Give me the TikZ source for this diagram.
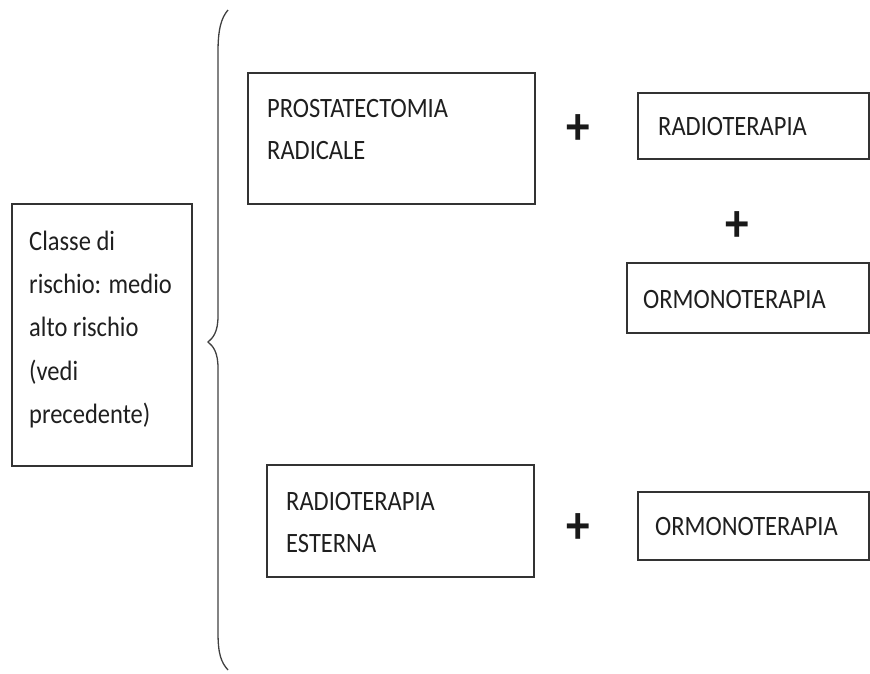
\documentclass[tikz,border=0pt]{standalone}
\usepackage{fontspec}
\setmainfont{Carlito}[FakeStretch=0.875]
\begin{document}
\begin{tikzpicture}[x=1pt,y=-1pt,
  box/.style={draw=black!80, line width=1.3pt, inner sep=0pt, outer sep=0pt, anchor=north west},
  lbl/.style={anchor=base west, inner sep=0pt, font=\fontsize{28}{34}\selectfont, text=black!88},
  plussign/.style={font=\fontsize{54}{54}\selectfont\bfseries, inner sep=0pt, text=black!90},
  bracestroke/.style={draw=black!75, line width=1.3pt}]
\useasboundingbox (0,0) rectangle (870,673);
\clip (0,0) rectangle (870,673);

% boxes
\node[box, minimum width=180pt, minimum height=262pt] (cls) at (12,204) {};
\node[box, minimum width=287pt, minimum height=131pt] (pr) at (248,73) {};
\node[box, minimum width=231pt, minimum height=66pt] (rt) at (638,93) {};
\node[box, minimum width=242pt, minimum height=70pt] (om1) at (627,263) {};
\node[box, minimum width=267pt, minimum height=112pt] (re) at (267,465) {};
\node[box, minimum width=231pt, minimum height=68pt] (om2) at (638,492) {};

% texts
\node[lbl] (c1) at (29,250) {Classe di};
\node[lbl] (c2) at (29,293) {rischio: medio};
\node[lbl] (c3) at (29,336.5) {alto rischio};
\node[lbl] (c4) at (29,380) {(vedi};
\node[lbl] (c5) at (29,423) {precedente)};

\node[lbl] (pr1) at (267,117) {PROSTATECTOMIA};
\node[lbl] (pr2) at (267,159) {RADICALE};
\node[lbl] (rt1) at (658,135) {RADIOTERAPIA};
\node[lbl] (om1t) at (643,308) {ORMONOTERAPIA};
\node[lbl] (re1) at (286,510) {RADIOTERAPIA};
\node[lbl] (re2) at (286,552) {ESTERNA};
\node[lbl] (om2t) at (655,535) {ORMONOTERAPIA};

% plus signs
\node[plussign] (p1) at (578,130) {+};
\node[plussign] (p2) at (737,227) {+};
\node[plussign] (p3) at (578,529) {+};

% brace
\coordinate (btop) at (228,10);
\coordinate (btip) at (208,342);
\coordinate (bbot) at (228,670);
\draw[bracestroke] (btop) .. controls (221,18) and (218,30) .. (218,52)
  -- (218,316) .. controls (218,332) and (213,338) .. (btip)
  .. controls (213,346) and (218,352) .. (218,368)
  -- (218,632) .. controls (218,654) and (221,662) .. (bbot);
\end{tikzpicture}
\end{document}
